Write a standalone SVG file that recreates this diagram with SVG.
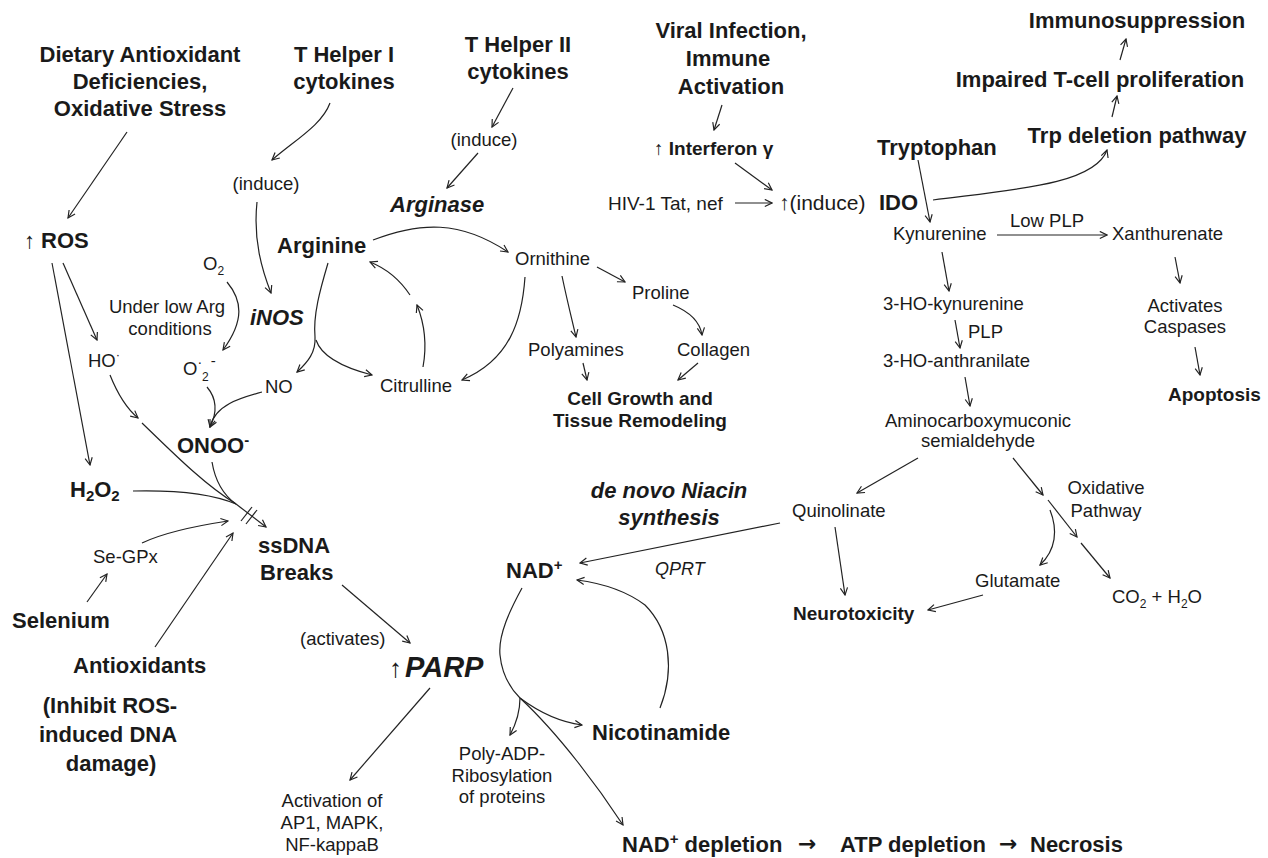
<svg xmlns="http://www.w3.org/2000/svg" width="1268" height="858" viewBox="0 0 1268 858">
<defs>
<marker id="ah" viewBox="0 0 10 10" refX="9" refY="5" markerWidth="9" markerHeight="9" markerUnits="userSpaceOnUse" orient="auto">
<path d="M1,1 L9,5 L1,9" fill="none" stroke="#222" stroke-width="1.3"/>
</marker>
<style>
text{fill:#1a1a1a;font-family:"Liberation Sans",Arial,sans-serif}
.b{font-size:22px;font-weight:bold}
.bi{font-size:22px;font-weight:bold;font-style:italic}
.m{font-size:19px;font-weight:bold}
.n{font-size:18.5px}
.i{font-size:18px;font-style:italic}
.c{text-anchor:middle}
.arr{font-family:"DejaVu Sans",sans-serif;font-weight:bold;font-size:22px}
.ln path{fill:none;stroke:#222;stroke-width:1.2}
.ln path.a{marker-end:url(#ah)}
</style>
</defs>
<rect width="1268" height="858" fill="#fff"/>

<g id="dietary"><text class="b c" x="140" y="62">Dietary Antioxidant</text><text class="b c" x="140" y="89">Deficiencies,</text><text class="b c" x="140" y="116">Oxidative Stress</text></g>
<g id="ros"><text class="b" x="24" y="248">↑ ROS</text></g>
<g id="th1"><text class="b c" x="344" y="62">T Helper I</text><text class="b c" x="344" y="89">cytokines</text></g>
<g id="induce1"><text class="n c" x="266" y="190">(induce)</text></g>
<g id="th2"><text class="b c" x="518" y="52">T Helper II</text><text class="b c" x="518" y="79">cytokines</text></g>
<g id="induce2"><text class="n c" x="484" y="146">(induce)</text></g>
<g id="arginase"><text class="bi" x="390" y="212">Arginase</text></g>
<g id="viral"><text class="b c" x="731" y="38">Viral Infection,</text><text class="b c" x="728" y="66">Immune</text><text class="b c" x="731" y="94">Activation</text></g>
<g id="ifn"><text class="m" x="654" y="155">↑ Interferon γ</text></g>
<g id="hiv"><text class="n" x="608" y="210" style="font-size:19px">HIV-1 Tat, nef</text></g>
<g id="ido"><text class="n" x="779" y="210" style="font-size:21px">↑(induce)</text><text class="b" x="879" y="210">IDO</text></g>
<g id="immuno"><text class="b c" x="1137" y="28">Immunosuppression</text></g>
<g id="impaired"><text class="b c" x="1100" y="87">Impaired T-cell proliferation</text></g>
<g id="trpdel"><text class="b c" x="1137" y="143">Trp deletion pathway</text></g>
<g id="tryptophan"><text class="b" x="877" y="155">Tryptophan</text></g>
<g id="kyn"><text class="n" x="893" y="240">Kynurenine</text></g>
<g id="lowplp"><text class="n" x="1010" y="227">Low PLP</text></g>
<g id="xanth"><text class="n" x="1112" y="240">Xanthurenate</text></g>
<g id="caspases"><text class="n c" x="1185" y="312">Activates</text><text class="n c" x="1185" y="333">Caspases</text></g>
<g id="apoptosis"><text class="m" x="1168" y="401">Apoptosis</text></g>
<g id="hokyn"><text class="n" x="883" y="310">3-HO-kynurenine</text></g>
<g id="plp"><text class="n" x="968" y="338">PLP</text></g>
<g id="hoanth"><text class="n" x="883" y="367">3-HO-anthranilate</text></g>
<g id="acms"><text class="n c" x="978" y="427">Aminocarboxymuconic</text><text class="n c" x="978" y="447">semialdehyde</text></g>
<g id="quin"><text class="n" x="792" y="517">Quinolinate</text></g>
<g id="oxpath"><text class="n c" x="1106" y="494">Oxidative</text><text class="n c" x="1106" y="517">Pathway</text></g>
<g id="glutamate"><text class="n" x="975" y="587">Glutamate</text></g>
<g id="co2"><text class="n" x="1112" y="603">CO<tspan font-size="12" dy="5">2</tspan><tspan dy="-5"> + H</tspan><tspan font-size="12" dy="5">2</tspan><tspan dy="-5">O</tspan></text></g>
<g id="neuro"><text class="m" x="793" y="620">Neurotoxicity</text></g>
<g id="denovo"><text class="bi c" x="669" y="498">de novo Niacin</text><text class="bi c" x="669" y="525">synthesis</text></g>
<g id="qprt"><text class="i" x="655" y="575">QPRT</text></g>
<g id="nad"><text class="b" x="506" y="578">NAD<tspan font-size="15" dy="-8">+</tspan></text></g>
<g id="nicotinamide"><text class="b" x="592" y="740">Nicotinamide</text></g>
<g id="poly"><text class="n c" x="502" y="760">Poly-ADP-</text><text class="n c" x="502" y="782">Ribosylation</text><text class="n c" x="502" y="803">of proteins</text></g>
<g id="depletion"><text class="b" x="622" y="852">NAD<tspan font-size="15" dy="-8">+</tspan><tspan dy="8"> depletion</tspan></text><text class="arr" x="798" y="851">→</text><text class="b" x="840" y="852">ATP depletion</text><text class="arr" x="999" y="851">→</text><text class="b" x="1030" y="852">Necrosis</text></g>
<g id="arginine"><text class="b" x="277" y="253">Arginine</text></g>
<g id="ornithine"><text class="n" x="515" y="265">Ornithine</text></g>
<g id="proline"><text class="n" x="632" y="299">Proline</text></g>
<g id="polyamines"><text class="n" x="528" y="356">Polyamines</text></g>
<g id="collagen"><text class="n" x="677" y="356">Collagen</text></g>
<g id="cellgrowth"><text class="m c" x="640" y="405">Cell Growth and</text><text class="m c" x="640" y="427">Tissue Remodeling</text></g>
<g id="citrulline"><text class="n" x="380" y="392">Citrulline</text></g>
<g id="inos"><text class="bi" x="250" y="325">iNOS</text></g>
<g id="o2"><text class="n" x="203" y="270">O<tspan font-size="12" dy="5">2</tspan></text></g>
<g id="lowarg"><text class="n c" x="167" y="313">Under low Arg</text><text class="n c" x="170" y="335">conditions</text></g>
<g id="ho"><text class="n" x="88" y="367">HO<tspan font-size="13" dy="-8">·</tspan></text></g>
<g id="superoxide"><text class="n" x="183" y="375">O<tspan font-size="14" dy="-8">·</tspan><tspan font-size="12" dy="14">2</tspan><tspan font-size="15" dy="-15" dx="2">-</tspan></text></g>
<g id="no"><text class="n" x="265" y="393">NO</text></g>
<g id="onoo"><text class="b" x="177" y="453">ONOO<tspan font-size="15" dy="-8">-</tspan></text></g>
<g id="h2o2"><text class="b" x="70" y="497">H<tspan font-size="15" dy="4">2</tspan><tspan dy="-4">O</tspan><tspan font-size="15" dy="4">2</tspan></text></g>
<g id="segpx"><text class="n" x="93" y="563">Se-GPx</text></g>
<g id="selenium"><text class="b" x="12" y="628">Selenium</text></g>
<g id="antiox"><text class="b" x="73" y="673">Antioxidants</text></g>
<g id="inhibit"><text class="b c" x="110" y="713">(Inhibit ROS-</text><text class="b c" x="108" y="742">induced DNA</text><text class="b c" x="111" y="771">damage)</text></g>
<g id="ssdna"><text class="b" x="258" y="553">ssDNA</text><text class="b" x="260" y="580">Breaks</text></g>
<g id="activates"><text class="n" x="300" y="645">(activates)</text></g>
<g id="parp"><text class="n" x="389" y="677" style="font-size:26px">↑</text><text class="bi" x="405" y="677" style="font-size:29px">PARP</text></g>
<g id="ap1"><text class="n c" x="332" y="807">Activation of</text><text class="n c" x="332" y="829">AP1, MAPK,</text><text class="n c" x="332" y="851">NF-kappaB</text></g>

<g id="connectors" class="ln">
<path class="a" d="M127,132 L68,218"/>
<path class="a" d="M52,263 L90,465"/>
<path class="a" d="M63,263 L97,340"/>
<path class="a" d="M330,103 C322,125 295,140 272,160"/>
<path class="a" d="M257,202 C253,240 262,270 271,293"/>
<path class="a" d="M513,88 L492,127"/>
<path class="a" d="M478,153 L447,188"/>
<path class="a" d="M722,105 L714,130"/>
<path class="a" d="M735,163 L772,190"/>
<path class="a" d="M735,203 L772,203"/>
<path class="a" d="M1120,60 L1126,39"/>
<path class="a" d="M1112,117 L1117,96"/>
<path class="a" d="M933,200 C1010,190 1095,185 1107,150"/>
<path class="a" d="M918,160 L930,222"/>
<path class="a" d="M997,235 L1107,235"/>
<path class="a" d="M1175,257 L1180,283"/>
<path class="a" d="M1195,347 L1200,375"/>
<path class="a" d="M942,252 L949,291"/>
<path class="a" d="M955,320 L960,348"/>
<path class="a" d="M965,377 L970,406"/>
<path class="a" d="M918,458 L857,493"/>
<path class="a" d="M1013,458 L1043,495"/>
<path class="a" d="M1048,500 L1077,537"/>
<path class="a" d="M1081,543 L1110,578"/>
<path class="a" d="M1050,510 C1058,530 1056,550 1040,565"/>
<path class="a" d="M983,595 L928,610"/>
<path class="a" d="M835,527 L845,595"/>
<path class="a" d="M780,523 L580,563"/>
<path d="M522,588 C510,610 498,635 500,655 C502,675 510,688 520,698"/>
<path class="a" d="M520,698 C520,712 516,724 510,735"/>
<path class="a" d="M520,698 C540,713 560,722 582,725"/>
<path class="a" d="M520,698 C560,735 600,790 623,825"/>
<path class="a" d="M660,708 C675,670 670,630 645,605 C625,590 600,583 577,580"/>
<path class="a" d="M342,585 L410,643"/>
<path class="a" d="M430,688 L350,780"/>
<path class="a" d="M87,602 L107,574"/>
<path class="a" d="M155,647 L233,533"/>
<path class="a" d="M142,543 C165,532 195,526 228,521"/>
<path d="M133,491 C175,490 210,493 236,504"/>
<path class="a" d="M110,375 C118,395 126,408 138,418"/>
<path d="M142,423 C175,455 205,485 236,504"/>
<path d="M212,462 C215,480 222,494 236,504"/>
<path class="a" d="M236,504 L266,527"/>
<path d="M241,521 L252,507"/>
<path d="M246,524 L257,510"/>
<path class="a" d="M373,240 C420,222 460,220 508,252"/>
<path class="a" d="M597,267 L625,282"/>
<path class="a" d="M562,276 C567,300 572,320 576,337"/>
<path class="a" d="M525,277 C522,320 510,360 462,380"/>
<path class="a" d="M673,305 C690,312 700,322 702,335"/>
<path class="a" d="M583,363 L587,380"/>
<path class="a" d="M698,363 L678,380"/>
<path class="a" d="M423,367 C427,345 425,325 417,305"/>
<path class="a" d="M410,295 C400,280 385,268 370,262"/>
<path d="M328,263 C320,290 313,315 315,337"/>
<path class="a" d="M315,337 C316,352 308,362 297,372"/>
<path class="a" d="M316,340 C322,358 345,368 372,375"/>
<path class="a" d="M227,282 C242,300 245,320 223,350"/>
<path class="a" d="M262,392 C240,398 215,405 210,427"/>
<path class="a" d="M207,387 C218,400 216,415 210,427"/>
</g>
</svg>
